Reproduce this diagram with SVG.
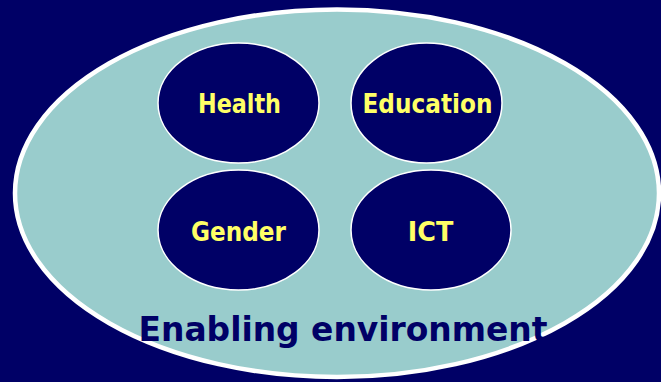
<svg xmlns="http://www.w3.org/2000/svg" width="661" height="382" viewBox="0 0 661 382">
<style>
.bg{fill:#000066}
.env{fill:#99CCCC;stroke:#ffffff;stroke-width:4.5}
.node{fill:#000066;stroke:#ffffff;stroke-width:1.5}
.lbl{font-family:"DejaVu Sans Condensed","DejaVu Sans","Liberation Sans",sans-serif;font-weight:bold;font-size:27px;fill:#FFFF66;text-anchor:middle}
.title{font-family:"DejaVu Sans","Liberation Sans",sans-serif;font-weight:bold;font-size:33px;fill:#000066;text-anchor:middle}
</style>
<rect class="bg" x="0" y="0" width="661" height="382"/>
<g id="environment">
<ellipse class="env" cx="337" cy="193.25" rx="322" ry="183.75"/>
</g>
<g id="connectors"></g>
<g id="health">
<ellipse class="node" cx="238.5" cy="103" rx="80.5" ry="60"/>
<text class="lbl" x="239.5" y="112.5" textLength="83" lengthAdjust="spacingAndGlyphs">Health</text>
</g>
<g id="education">
<ellipse class="node" cx="426.5" cy="103" rx="75.5" ry="60"/>
<text class="lbl" x="427.5" y="112.5" textLength="130" lengthAdjust="spacingAndGlyphs">Education</text>
</g>
<g id="gender">
<ellipse class="node" cx="238.5" cy="230" rx="80.5" ry="60"/>
<text class="lbl" x="238.5" y="241" textLength="95" lengthAdjust="spacingAndGlyphs">Gender</text>
</g>
<g id="ict">
<ellipse class="node" cx="431" cy="230" rx="80" ry="60"/>
<text class="lbl" x="430.5" y="241" textLength="45.5" lengthAdjust="spacingAndGlyphs">ICT</text>
</g>
<g id="label">
<text class="title" x="343" y="341" textLength="409" lengthAdjust="spacingAndGlyphs">Enabling environment</text>
</g>
</svg>
